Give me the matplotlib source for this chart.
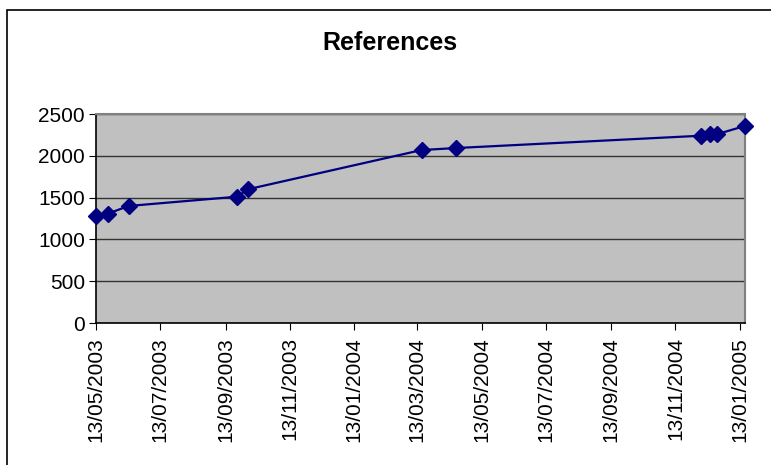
import datetime as dt
import matplotlib
matplotlib.use("Agg")
import matplotlib.pyplot as plt
import matplotlib.dates as mdates
from matplotlib.patches import Rectangle

plt.rcParams['font.family'] = ['Liberation Sans', 'DejaVu Sans']

# data
dates = ["2003-05-13", "2003-05-24", "2003-06-13", "2003-09-24", "2003-10-04",
         "2004-03-17", "2004-04-19", "2004-12-07", "2004-12-16", "2004-12-22",
         "2005-01-18"]
refs = [1283, 1307, 1400, 1511, 1599, 2069, 2093, 2240, 2257, 2257, 2357]
tick_dates = ["2003-05-13", "2003-07-13", "2003-09-13", "2003-11-13", "2004-01-13",
              "2004-03-13", "2004-05-13", "2004-07-13", "2004-09-13", "2004-11-13",
              "2005-01-13"]
y_ticks = [0, 500, 1000, 1500, 2000, 2500]

x = [dt.datetime.strptime(d, "%Y-%m-%d") for d in dates]
xt = [dt.datetime.strptime(d, "%Y-%m-%d") for d in tick_dates]

W, H = 771, 465
fig = plt.figure(figsize=(W / 100, H / 100), dpi=100)

# chart area border
fig.patches.append(Rectangle((7 / W, -0.1), 1.2, 1 - 10 / H + 0.1, transform=fig.transFigure,
                             fill=False, edgecolor='black', linewidth=1.2))

ax = fig.add_axes([96 / W, (H - 323) / H, (745 - 96) / W, (323 - 114) / H])
ax.set_facecolor('#c0c0c0')

ax.plot(x, refs, color='#000080', linewidth=1.6, marker='D', markersize=8,
        markerfacecolor='#000080', markeredgecolor='#000080', zorder=3, clip_on=False)

ax.set_ylim(0, 2500)
ax.set_yticks(y_ticks)
ax.set_xlim(xt[0], dt.datetime(2005, 1, 18))
ax.set_xticks(xt)
ax.xaxis.set_major_formatter(mdates.DateFormatter('%d/%m/%Y'))
ax.tick_params(axis='x', rotation=90, labelsize=15, length=5, direction='out', pad=5)
ax.tick_params(axis='y', labelsize=15, length=5, direction='out', pad=3)

ax.grid(axis='y', color='#333333', linewidth=1)
ax.set_axisbelow(True)
for side in ['top', 'right']:
    ax.spines[side].set_color('#808080')
    ax.spines[side].set_linewidth(1.5)
for side in ['left', 'bottom']:
    ax.spines[side].set_color('black')
    ax.spines[side].set_linewidth(1.2)

fig.text(390 / W, 1 - 43 / H, "References", ha='center', va='center',
         fontsize=18, fontweight='bold')

fig.savefig("out.png", dpi=100)
